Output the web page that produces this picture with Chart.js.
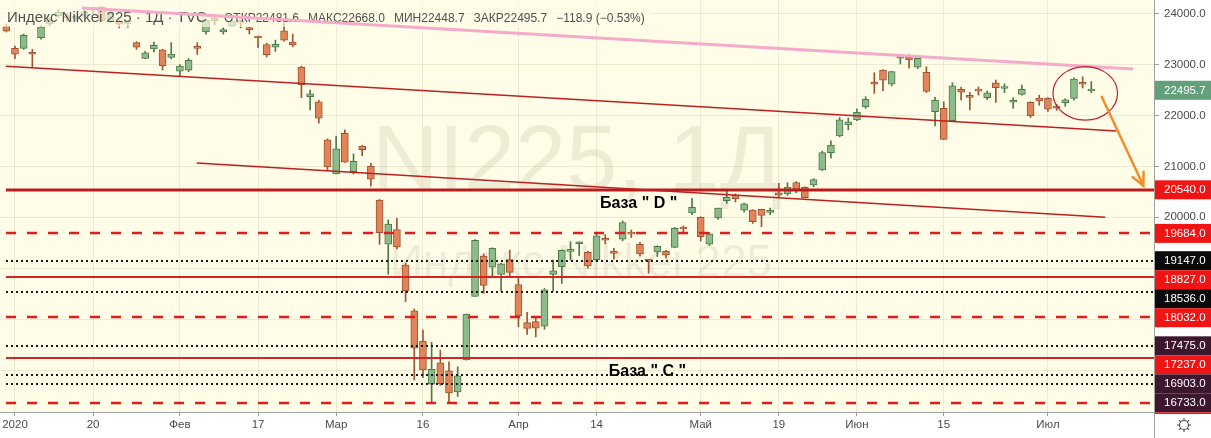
<!DOCTYPE html>
<html>
<head>
<meta charset="utf-8">
<title>Индекс Nikkei 225</title>
<script src="https://cdn.jsdelivr.net/npm/chart.js@4.4.1/dist/chart.umd.min.js"></script>
<style>
  html, body { margin: 0; padding: 0; background: #ffffff; }
  canvas { display: block; }
</style>
</head>
<body>
<canvas id="nikkeiChart" width="1211" height="438"></canvas>
<script>
// trading days (TVC:NI225, daily)
const dates = [
    '2019-12-30',
    '2020-01-06', '2020-01-07', '2020-01-08', '2020-01-09', '2020-01-10', '2020-01-14', '2020-01-15', '2020-01-16', '2020-01-17', '2020-01-20',
    '2020-01-21', '2020-01-22', '2020-01-23', '2020-01-24', '2020-01-27', '2020-01-28', '2020-01-29', '2020-01-30', '2020-01-31',
    '2020-02-03', '2020-02-04', '2020-02-05', '2020-02-06', '2020-02-07', '2020-02-10', '2020-02-12', '2020-02-13', '2020-02-14',
    '2020-02-17', '2020-02-18', '2020-02-19', '2020-02-20', '2020-02-21', '2020-02-25', '2020-02-26', '2020-02-27', '2020-02-28',
    '2020-03-02', '2020-03-03', '2020-03-04', '2020-03-05', '2020-03-06', '2020-03-09', '2020-03-10', '2020-03-11', '2020-03-12', '2020-03-13',
    '2020-03-16', '2020-03-17', '2020-03-18', '2020-03-19', '2020-03-23', '2020-03-24', '2020-03-25', '2020-03-26', '2020-03-27', '2020-03-30', '2020-03-31',
    '2020-04-01', '2020-04-02', '2020-04-03', '2020-04-06', '2020-04-07', '2020-04-08', '2020-04-09', '2020-04-10', '2020-04-13', '2020-04-14', '2020-04-15',
    '2020-04-16', '2020-04-17', '2020-04-20', '2020-04-21', '2020-04-22', '2020-04-23', '2020-04-24', '2020-04-27', '2020-04-28', '2020-04-30',
    '2020-05-01', '2020-05-07', '2020-05-08', '2020-05-11', '2020-05-12', '2020-05-13', '2020-05-14', '2020-05-15', '2020-05-18',
    '2020-05-19', '2020-05-20', '2020-05-21', '2020-05-22', '2020-05-25', '2020-05-26', '2020-05-27', '2020-05-28', '2020-05-29',
    '2020-06-01', '2020-06-02', '2020-06-03', '2020-06-04', '2020-06-05', '2020-06-08', '2020-06-09', '2020-06-10', '2020-06-11', '2020-06-12',
    '2020-06-15', '2020-06-16', '2020-06-17', '2020-06-18', '2020-06-19', '2020-06-22', '2020-06-23', '2020-06-24', '2020-06-25', '2020-06-26',
    '2020-06-29', '2020-06-30',
    '2020-07-01', '2020-07-02', '2020-07-03', '2020-07-06', '2020-07-07', '2020-07-08'
];

const opens = [
    23750,
    23320, 23320, 23230, 23530, 23800, 23960, 23960, 23910, 23950, 24100, 24130, 23843, 23850, 23810, 23431, 23120, 23310, 23290, 23140,
    22870, 22890, 23350, 23640, 23920, 23640, 23760, 23850, 23720, 23530, 23395, 23340, 23665, 23440, 22950, 22370, 22270, 21520,
    20850, 21650, 20897, 21400, 21000, 20340, 19470, 19760, 19060, 18164, 17570, 16720, 17140, 16985, 16570, 17200, 18446, 19240, 19020, 18880, 19170,
    18680, 17930, 17950, 17860, 18880, 19030, 19330, 19480, 19310, 19170, 19585, 19320, 19570, 19700, 19470, 19140, 19320, 19330, 19410, 19780, 20085,
    20000, 19470, 19990, 20325, 20430, 20142, 20140, 20156, 20097, 20483, 20457, 20680, 20590, 20634, 20929, 21270, 21600, 21813,
    21911, 22173, 22658, 22890, 22613, 23125, 23145, 22950, 22850, 22074, 22141, 21900, 22514, 22360, 22515, 22350, 22640, 22530, 22260, 22416, 22260, 22340,
    22337, 22186, 22251, 22337, 22650, 22481.6
];

const highs = [
    23800,
    23365, 23600, 23300, 23767, 23903, 24084, 24000, 23960, 24115, 24115, 24140, 24060, 23880, 23840, 23450, 23260, 23440, 23300, 23430,
    23000, 23120, 23430, 23895, 23960, 23720, 23880, 23870, 23740, 23561, 23420, 23480, 23810, 23600, 22970, 22500, 22300, 21540,
    21597, 21719, 21245, 21410, 21060, 20350, 19950, 19980, 19100, 18200, 17785, 17543, 17391, 17161, 17063, 18100, 19564, 19280, 19400, 19100, 19356,
    18800, 18132, 18050, 18600, 19160, 19360, 19520, 19520, 19330, 19680, 19660, 19390, 19930, 19750, 19510, 19170, 19440, 19350, 19800, 19830, 20372,
    20010, 19700, 20180, 20536, 20460, 20280, 20150, 20160, 20180, 20667, 20680, 20700, 20600, 20760, 21300, 21500, 21960, 21950,
    22130, 22370, 22840, 22900, 22870, 23200, 23190, 23185, 22958, 22357, 22271, 22644, 22560, 22455, 22560, 22480, 22697, 22620, 22350, 22600, 22270, 22400,
    22350, 22220, 22330, 22740, 22760, 22668.0
];

const lows = [
    23640,
    23115, 23300, 22951, 23500, 23760, 23930, 23850, 23860, 23940, 24000, 23850, 23830, 23720, 23730, 23300, 23115, 23250, 22892, 23110,
    22775, 22860, 23200, 23600, 23780, 23600, 23750, 23720, 23600, 23332, 23150, 23260, 23460, 23350, 22350, 22110, 21850, 20916,
    20850, 21080, 20850, 21210, 20613, 19470, 18880, 19380, 18340, 16802, 16850, 16378, 16700, 16358, 16480, 17195, 18446, 18505, 18846, 18551, 18820,
    17850, 17700, 17650, 17800, 18551, 18700, 19160, 19250, 19000, 19130, 19480, 19180, 19540, 19600, 19240, 18900, 19230, 19200, 19400, 19700, 20050,
    19533, 19448, 19960, 20274, 20300, 20100, 19880, 19815, 20050, 20400, 20430, 20480, 20380, 20600, 20920, 21160, 21580, 21720,
    21900, 22140, 22436, 22490, 22580, 23011, 22930, 22920, 22450, 21793, 21530, 21880, 22304, 22110, 22400, 22310, 22255, 22450, 22140, 22400, 21960, 22200,
    22080, 22100, 22180, 22300, 22540, 22448.7
];

const closes = [
    23656,
    23204, 23575, 23204, 23740, 23870, 24025, 23916, 23933, 24041, 24083, 23864, 24031, 23795, 23827, 23343, 23230, 23379, 22977, 23205,
    22972, 23084, 23319, 23873, 23860, 23690, 23861, 23828, 23687, 23523, 23193, 23400, 23479, 23387, 22605, 22426, 21948, 20990,
    21344, 21083, 21100, 21329, 20750, 19699, 19867, 19416, 18560, 17431, 17002, 17011, 16726, 16552, 16887, 18092, 19546, 18664, 19389, 19085, 18917,
    18065, 17818, 17820, 18576, 18950, 19353, 19346, 19498, 19043, 19638, 19550, 19290, 19897, 19669, 19281, 19138, 19429, 19262, 19783, 19771, 20194,
    19619, 19675, 20179, 20390, 20366, 20267, 19914, 20037, 20134, 20433, 20595, 20552, 20388, 20741, 21271, 21419, 21916, 21878,
    22062, 22318, 22613, 22695, 22863, 23178, 23091, 23125, 22473, 22305, 21531, 22582, 22456, 22355, 22479, 22447, 22549, 22534, 22260, 22512, 21995, 22288,
    22122, 22146, 22306, 22714, 22614.6, 22495.7
];

// time axis
const timeTickDates = ['2020-01-06', '2020-01-20', '2020-02-03', '2020-02-17', '2020-03-02', '2020-03-16',
    '2020-04-01', '2020-04-14', '2020-05-01', '2020-05-19', '2020-06-01', '2020-06-15', '2020-07-01'];
const timeTickLabels = ['2020', '20', 'Фев', '17', 'Мар', '16', 'Апр', '14', 'Май', '19', 'Июн', '15', 'Июл'];

// price axis
const priceTicks = [17000, 18000, 19000, 20000, 21000, 22000, 23000, 24000];

// horizontal levels drawn on the chart
const levelValues = [20540, 19684, 19147, 18827, 18536, 18032, 17475, 17237, 16903, 16733, 16358];
const levelKinds = ['solid', 'dashed', 'dotted', 'solid', 'dotted', 'dashed', 'dotted', 'solid', 'dotted', 'dotted', 'dashed'];
const levelTagColors = ['#f01414', '#f01414', '#0a0a0a', '#f01414', '#0a0a0a', '#f01414', '#3d1630', '#f01414', '#3d1630', '#3d1630', '#f01414'];

// drawings: [candle index, price]
const pinkLine = [[8.72, 24112], [129.8, 22914]];
const channelLineA = [[-0.04, 22967], [127.9, 21694]];
const channelLineB = [[21.93, 21067], [126.6, 20000]];
const circleCenter = [124.3, 22436];
const circleRadius = [3.72, 525];
const arrowPath = [[126.2, 22367], [131.0, 20618]];
const baseLabels = ['База " D "', 'База " C "'];
const baseLabelAnchors = [[68.4, 20261], [69.4, 16967]];

const legendNames = ['ОТКР', 'МАКС', 'МИН', 'ЗАКР'];

const FONT = '"Liberation Sans", Arial, sans-serif';
const BG = 'rgb(255,253,231)';
const UP_FILL = 'rgb(141,187,139)', UP_LINE = 'rgb(76,122,70)';
const DN_FILL = 'rgb(226,132,90)', DN_LINE = 'rgb(158,84,50)';

document.addEventListener("DOMContentLoaded", function () {
    const ctx = document.getElementById('nikkeiChart').getContext('2d');
    const isUp = closes.map((c, i) => c >= opens[i]);

    const backdrop = {
        id: 'backdrop',
        beforeDraw(chart) {
            const c = chart.ctx, a = chart.chartArea;
            c.save();
            c.fillStyle = '#ffffff';
            c.fillRect(0, 0, chart.width, chart.height);
            c.fillStyle = BG;
            c.fillRect(a.left, a.top, a.right - a.left, a.bottom - a.top);
            c.restore();
        },
        beforeDatasetsDraw(chart) {
            const c = chart.ctx, a = chart.chartArea;
            const cx = (a.left + a.right) / 2;
            c.save();
            c.fillStyle = 'rgba(120,120,90,0.13)';
            c.textAlign = 'center';
            c.font = '92px ' + FONT;
            c.fillText('NI225, 1Д', cx, 190);
            c.font = '46px ' + FONT;
            c.fillText('Индекс Nikkei 225', cx + 4, 277);
            c.restore();
        }
    };

    const drawings = {
        id: 'drawings',
        afterDatasetsDraw(chart) {
            const c = chart.ctx, a = chart.chartArea;
            const xs = chart.scales.x, ys = chart.scales.y;
            const P = (p) => [xs.getPixelForValue(p[0]), ys.getPixelForValue(p[1])];
            const last = closes.length - 1;

            c.save();
            c.beginPath();
            c.rect(a.left, a.top, a.right - a.left, a.bottom - a.top);
            c.clip();

            // legend backdrop + text
            c.fillStyle = 'rgba(255,253,231,0.65)';
            c.fillRect(0, 0, 652, 27);
            c.fillStyle = '#505050';
            c.font = '15px ' + FONT;
            c.textBaseline = 'alphabetic';
            c.fillText('Индекс Nikkei 225 · 1Д · TVC', 7, 21.5);
            c.font = '12px ' + FONT;
            const change = closes[last] - closes[last - 1];
            const items = [
                legendNames[0] + opens[last].toFixed(1),
                legendNames[1] + highs[last].toFixed(1),
                legendNames[2] + lows[last].toFixed(1),
                legendNames[3] + closes[last].toFixed(1),
                '−' + Math.abs(change).toFixed(1) + ' (−' + Math.abs(change / closes[last - 1] * 100).toFixed(2) + '%)'
            ];
            let tx = 224;
            items.forEach(t => { c.fillText(t, tx, 21.5); tx += c.measureText(t).width + 9; });

            // horizontal levels
            levelValues.forEach((v, k) => {
                const y = Math.round(ys.getPixelForValue(v));
                const kind = levelKinds[k];
                c.beginPath();
                if (kind === 'solid') {
                    c.setLineDash([]);
                    c.lineWidth = k === 0 ? 3 : 2;
                    c.strokeStyle = k === 0 ? 'rgb(185,28,28)' : 'rgb(214,36,36)';
                } else if (kind === 'dashed') {
                    c.setLineDash([10, 11]);
                    c.lineWidth = 2.5;
                    c.strokeStyle = 'rgb(222,30,30)';
                } else {
                    c.setLineDash([2, 3]);
                    c.lineWidth = 2;
                    c.strokeStyle = 'rgb(25,25,25)';
                }
                c.moveTo(a.left + 6, y);
                c.lineTo(a.right, y);
                c.stroke();
            });
            c.setLineDash([]);

            // trend lines
            const seg = (pts, color, width) => {
                const p0 = P(pts[0]), p1 = P(pts[1]);
                c.beginPath();
                c.strokeStyle = color;
                c.lineWidth = width;
                c.moveTo(p0[0], p0[1]);
                c.lineTo(p1[0], p1[1]);
                c.stroke();
            };
            seg(channelLineA, 'rgb(190,32,32)', 1.4);
            seg(channelLineB, 'rgb(190,32,32)', 1.4);
            seg(pinkLine, 'rgb(244,170,200)', 3);

            // circle around the last candles
            const cc = P(circleCenter);
            const rx = xs.getPixelForValue(circleCenter[0] + circleRadius[0]) - cc[0];
            const ry = ys.getPixelForValue(circleCenter[1] - circleRadius[1]) - cc[1];
            c.beginPath();
            c.strokeStyle = 'rgb(190,30,50)';
            c.lineWidth = 1.2;
            c.ellipse(cc[0], cc[1], rx, ry, 0, 0, Math.PI * 2);
            c.stroke();

            // arrow
            const s = P(arrowPath[0]), e = P(arrowPath[1]);
            const ang = Math.atan2(e[1] - s[1], e[0] - s[0]);
            c.strokeStyle = 'rgb(245,140,40)';
            c.lineWidth = 2.5;
            c.lineCap = 'round';
            c.beginPath();
            c.moveTo(s[0], s[1]);
            c.lineTo(e[0], e[1]);
            c.moveTo(e[0] - 14 * Math.cos(ang - 0.45), e[1] - 14 * Math.sin(ang - 0.45));
            c.lineTo(e[0], e[1]);
            c.lineTo(e[0] - 14 * Math.cos(ang + 0.45), e[1] - 14 * Math.sin(ang + 0.45));
            c.stroke();

            // base labels
            c.fillStyle = '#000000';
            c.font = 'bold 16px ' + FONT;
            c.textBaseline = 'middle';
            baseLabels.forEach((t, k) => {
                const p = P(baseLabelAnchors[k]);
                c.fillText(t, p[0], p[1]);
            });
            c.restore();
        },
        afterDraw(chart) {
            const c = chart.ctx, a = chart.chartArea;
            const ys = chart.scales.y;
            const last = closes.length - 1;

            // price tags on the right scale (pushed down when they collide)
            const tags = [{ v: closes[last], text: closes[last].toFixed(1), color: 'rgb(98,160,124)' }];
            levelValues.forEach((v, k) => tags.push({ v: v, text: v.toFixed(1), color: levelTagColors[k] }));
            tags.sort((p, q) => q.v - p.v);
            c.save();
            c.beginPath();
            c.rect(a.right, 0, chart.width - a.right, a.bottom + 2);
            c.clip();
            c.font = '11.5px ' + FONT;
            c.textBaseline = 'middle';
            let prev = -100;
            tags.forEach(t => {
                const y = Math.max(ys.getPixelForValue(t.v), prev + 19);
                prev = y;
                c.fillStyle = t.color;
                c.fillRect(a.right + 1, y - 9.5, chart.width - a.right - 1, 19);
                c.fillStyle = '#ffffff';
                c.fillText(t.text, a.right + 10, y + 0.5);
            });
            c.restore();

            // scale corner: separator and settings gear
            c.save();
            c.strokeStyle = '#a0a0a0';
            c.lineWidth = 1;
            c.beginPath();
            c.moveTo(a.right + 0.5, a.bottom);
            c.lineTo(a.right + 0.5, chart.height);
            c.stroke();
            const gx = 1184, gy = 425;
            c.strokeStyle = '#444444';
            c.lineWidth = 1.1;
            c.beginPath();
            c.arc(gx, gy, 4.5, 0, Math.PI * 2);
            for (let k = 0; k < 8; k++) {
                const t = k * Math.PI / 4;
                c.moveTo(gx + 4.5 * Math.cos(t), gy + 4.5 * Math.sin(t));
                c.lineTo(gx + 7 * Math.cos(t), gy + 7 * Math.sin(t));
            }
            c.stroke();
            c.restore();
        }
    };

    new Chart(ctx, {
        type: 'bar',
        data: {
            datasets: [{
                label: 'body',
                data: dates.map((d, i) => ({ x: i, y: [opens[i], closes[i]] })),
                backgroundColor: isUp.map(u => u ? UP_FILL : DN_FILL),
                borderColor: isUp.map(u => u ? UP_LINE : DN_LINE),
                borderWidth: 1,
                borderSkipped: false,
                barThickness: 7,
                minBarLength: 2,
                grouped: false
            }, {
                label: 'wick',
                data: dates.map((d, i) => ({ x: i, y: [lows[i], highs[i]] })),
                backgroundColor: isUp.map(u => u ? UP_LINE : DN_LINE),
                borderWidth: 0,
                barThickness: 1,
                grouped: false
            }]
        },
        options: {
            responsive: false,
            animation: false,
            layout: { padding: 0 },
            plugins: {
                legend: { display: false },
                tooltip: { enabled: false }
            },
            scales: {
                x: {
                    type: 'linear',
                    min: -0.726,
                    max: 132.22,
                    offset: false,
                    afterBuildTicks: function (axis) {
                        axis.ticks = timeTickDates.map(d => ({ value: dates.indexOf(d) }));
                    },
                    afterFit: function (axis) {
                        axis.height = 26;
                        axis.paddingLeft = 0;
                        axis.paddingRight = 0;
                    },
                    ticks: {
                        autoSkip: false,
                        maxRotation: 0,
                        padding: 2,
                        color: '#4a4a4a',
                        font: { family: FONT, size: 11.5 },
                        callback: function (value, index) { return timeTickLabels[index]; }
                    },
                    grid: { offset: false, color: 'rgba(170,170,130,0.22)', tickColor: '#9a9a9a', tickLength: 4 },
                    border: { color: '#a0a0a0' }
                },
                y: {
                    position: 'right',
                    min: 16175,
                    max: 24269,
                    afterBuildTicks: function (axis) {
                        axis.ticks = priceTicks.map(v => ({ value: v }));
                    },
                    afterFit: function (axis) {
                        axis.width = 57;
                        axis.paddingTop = 0;
                        axis.paddingBottom = 0;
                    },
                    ticks: {
                        padding: 5,
                        color: '#4a4a4a',
                        font: { family: FONT, size: 11.5 },
                        callback: function (value) { return value >= 20000 ? value.toFixed(1) : ''; }
                    },
                    grid: { color: 'rgba(170,170,130,0.22)', tickColor: '#9a9a9a', tickLength: 5 },
                    border: { color: '#a0a0a0' }
                }
            }
        },
        plugins: [backdrop, drawings]
    });
});
</script>
</body>
</html>
